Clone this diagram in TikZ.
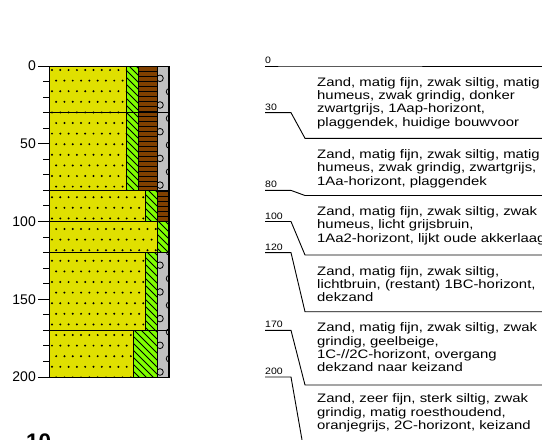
\documentclass[tikz,border=0pt]{standalone}
\usepackage{fontspec}
\setmainfont{Liberation Sans}
\newfontfamily\descfont[FakeStretch=1.21]{Liberation Sans}
\newfontfamily\depthfont[FakeStretch=1.13]{Liberation Sans}
\usetikzlibrary{positioning}

\definecolor{sandgeel}{RGB}{224,224,0}
\definecolor{leemgroen}{RGB}{128,255,0}
\definecolor{humusbruin}{RGB}{128,64,0}
\definecolor{grindgrijs}{RGB}{192,192,192}

\tikzset{
  cellline/.style={line width=1pt},
  tick/.style={line width=1pt},
  patline/.style={line width=0.8pt},
  axislbl/.style={anchor=east, inner sep=0pt, font=\fontsize{14}{14}\selectfont},
  depthlbl/.style={anchor=base west, inner sep=0pt, font=\depthfont\fontsize{9.3}{9.3}\selectfont},
  % multi-line node: base = baseline of its last line
  desc/.style={anchor=base west, align=left, inner sep=0pt, font=\descfont\fontsize{12.3}{13.4}\selectfont},
  bound/.style={line width=0.9pt},
}

% fill patterns: drawn over the whole column, clipped per cell
\newcommand{\zandstip}{%
  \foreach \rij in {0,...,29}
    \foreach \kol in {0,...,15}
      \fill ({52+8.3*\kol+4.15*mod(\rij,2)},{70+10.6*\rij}) circle (1.1pt);}
\newcommand{\arcering}{%
  \foreach \k in {-12,...,56}
    \draw[patline] (100,{30+7*\k}) -- ++(80,80);}
\newcommand{\humuslagen}{%
  \foreach \k in {0,...,63}
    \draw[patline] (120,{66+5*\k}) -- (180,{66+5*\k});}
\newcommand{\grindrondjes}{%
  \foreach \k in {0,...,11} {
    \draw[patline] (160,{78.3+26.7*\k}) circle (3.3pt);
    \draw[patline] (169.5,{91.7+26.7*\k}) circle (3.3pt);}}

% #1 colour, #2 pattern, #3/#4 x left/right, #5/#6 depth top/bottom (cm)
\newcommand{\logcel}[6]{%
  \pgfmathsetmacro\ytop{66+1.555*#5}
  \pgfmathsetmacro\ybot{66+1.555*#6}
  \begin{scope}
    \clip (#3,\ytop) rectangle (#4,\ybot);
    \fill[#1] (#3,\ytop) rectangle (#4,\ybot);
    #2
  \end{scope}
  \draw[cellline] (#3,\ytop) rectangle (#4,\ybot);}

\begin{document}
\begin{tikzpicture}[x=1pt,y=-1pt]
  \path[use as bounding box] (0,0) rectangle (542,440);
  \clip (0,0) rectangle (542,440);

  % boorkolom
  \logcel{sandgeel}{\zandstip}{49}{126}{0}{30}
  \logcel{leemgroen}{\arcering}{126}{138}{0}{30}
  \logcel{humusbruin}{\humuslagen}{138}{157}{0}{30}
  \logcel{grindgrijs}{\grindrondjes}{157}{169}{0}{30}
  \logcel{sandgeel}{\zandstip}{49}{126}{30}{80}
  \logcel{leemgroen}{\arcering}{126}{138}{30}{80}
  \logcel{humusbruin}{\humuslagen}{138}{157}{30}{80}
  \logcel{grindgrijs}{\grindrondjes}{157}{169}{30}{80}
  \logcel{sandgeel}{\zandstip}{49}{145}{80}{100}
  \logcel{leemgroen}{\arcering}{145}{157}{80}{100}
  \logcel{humusbruin}{\humuslagen}{157}{169}{80}{100}
  \logcel{sandgeel}{\zandstip}{49}{157}{100}{120}
  \logcel{leemgroen}{\arcering}{157}{169}{100}{120}
  \logcel{sandgeel}{\zandstip}{49}{145}{120}{170}
  \logcel{leemgroen}{\arcering}{145}{157}{120}{170}
  \logcel{grindgrijs}{\grindrondjes}{157}{169}{120}{170}
  \logcel{sandgeel}{\zandstip}{49}{133}{170}{200}
  \logcel{leemgroen}{\arcering}{133}{157}{170}{200}
  \logcel{grindgrijs}{\grindrondjes}{157}{169}{170}{200}
  \draw[line width=1.8pt] (169,66) -- (169,377);

  % diepteschaal
  \foreach \d in {0,10,...,200}
    \draw[tick] (43,{66+1.555*\d}) -- (49,{66+1.555*\d});
  \foreach \d in {0,50,...,200} {
    \draw[tick] (38,{66+1.555*\d}) -- (49,{66+1.555*\d});
    \node[axislbl] (as\d) at (36,{66+1.555*\d}) {\d};
  }

  % laaggrenzen naar de beschrijving
  \foreach \d/\t in {0/66,30/138.3,80/195.5,100/255,120/311.7,170/385,200/457} {
    \coordinate (k\d) at (265,{66+1.555*\d});
    \node[depthlbl] (d\d) at ([yshift=2.5pt]k\d) {\d};
    \draw[bound] (k\d) -- ++(26,0) -- (305,\t) -- (542,\t);
  }

  \node[desc] (t0) at (317,126.2) {Zand, matig fijn, zwak siltig, matig\\humeus, zwak grindig, donker\\zwartgrijs, 1Aap-horizont,\\plaggendek, huidige bouwvoor};
  \node[desc] (t30) at (317,185.1) {Zand, matig fijn, zwak siltig, matig\\humeus, zwak grindig, zwartgrijs,\\1Aa-horizont, plaggendek};
  \node[desc] (t80) at (317,242.3) {Zand, matig fijn, zwak siltig, zwak\\humeus, licht grijsbruin,\\1Aa2-horizont, lijkt oude akkerlaag};
  \node[desc] (t100) at (317,301.8) {Zand, matig fijn, zwak siltig,\\lichtbruin, (restant) 1BC-horizont,\\dekzand};
  \node[desc] (t120) at (317,371.9) {Zand, matig fijn, zwak siltig, zwak\\grindig, geelbeige,\\1C-//2C-horizont, overgang\\dekzand naar keizand};
  \node[desc] (t170) at (317,429.5) {Zand, zeer fijn, sterk siltig, zwak\\grindig, matig roesthoudend,\\oranjegrijs, 2C-horizont, keizand};

  \node[anchor=base west, inner sep=0pt, font=\bfseries\fontsize{22.5}{22.5}\selectfont] (profielnr) at (26,449) {10};
\end{tikzpicture}
\end{document}
